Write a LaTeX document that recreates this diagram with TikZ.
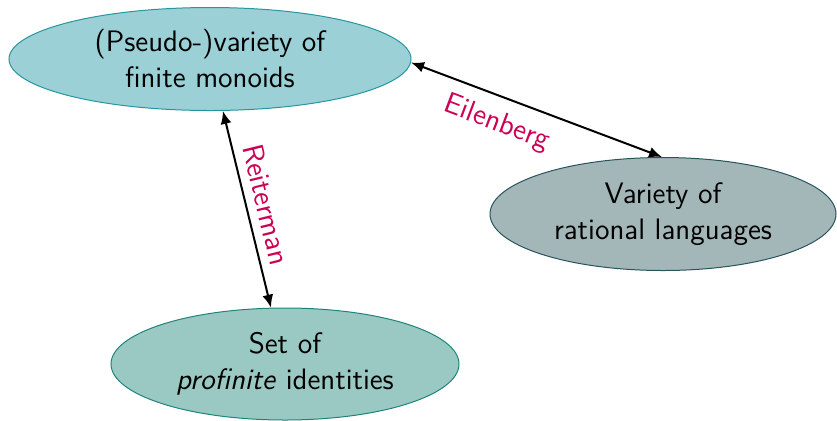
\documentclass[tikz,border=0pt]{standalone}
\usetikzlibrary{shapes.geometric,arrows.meta}
\definecolor{monoidfill}{RGB}{154,208,214}
\definecolor{monoiddraw}{RGB}{38,150,160}
\definecolor{langfill}{RGB}{163,182,184}
\definecolor{langdraw}{RGB}{40,84,92}
\definecolor{identfill}{RGB}{154,201,196}
\definecolor{identdraw}{RGB}{30,132,122}
\definecolor{thmcolor}{RGB}{204,0,84}
\tikzset{
  blob/.style={ellipse, inner sep=0pt, line width=0.5pt, align=center,
    font=\sffamily\fontsize{14.8}{18}\selectfont},
  link/.style={{Latex[length=6.5pt,width=5.5pt]}-{Latex[length=6.5pt,width=5.5pt]}, line width=1pt, black},
  thm/.style={text=thmcolor, sloped, font=\sffamily\fontsize{14.8}{18}\selectfont}
}
\begin{document}
\begin{tikzpicture}[x=0.5pt,y=-0.5pt]
  \useasboundingbox (0,0) rectangle (837,420);
  \node[blob, fill=monoidfill, draw=monoiddraw, minimum width=201pt, minimum height=51.5pt]
    (mon) at (210,59) {(Pseudo-)variety of\\finite monoids};
  \node[blob, fill=langfill, draw=langdraw, minimum width=173pt, minimum height=56.5pt]
    (lang) at (663,214) {Variety of\\rational languages};
  \node[blob, fill=identfill, draw=identdraw, minimum width=174pt, minimum height=56pt]
    (ident) at (285,364) {Set of\\\textit{profinite} identities};
  \draw[link] (mon.-1) -- node[thm, below, pos=0.38, yshift=-3pt] {Eilenberg} (lang.91);
  \draw[link] (mon.-76) -- node[thm, above, pos=0.5, yshift=1pt] {Reiterman} (ident.104);
\end{tikzpicture}
\end{document}
